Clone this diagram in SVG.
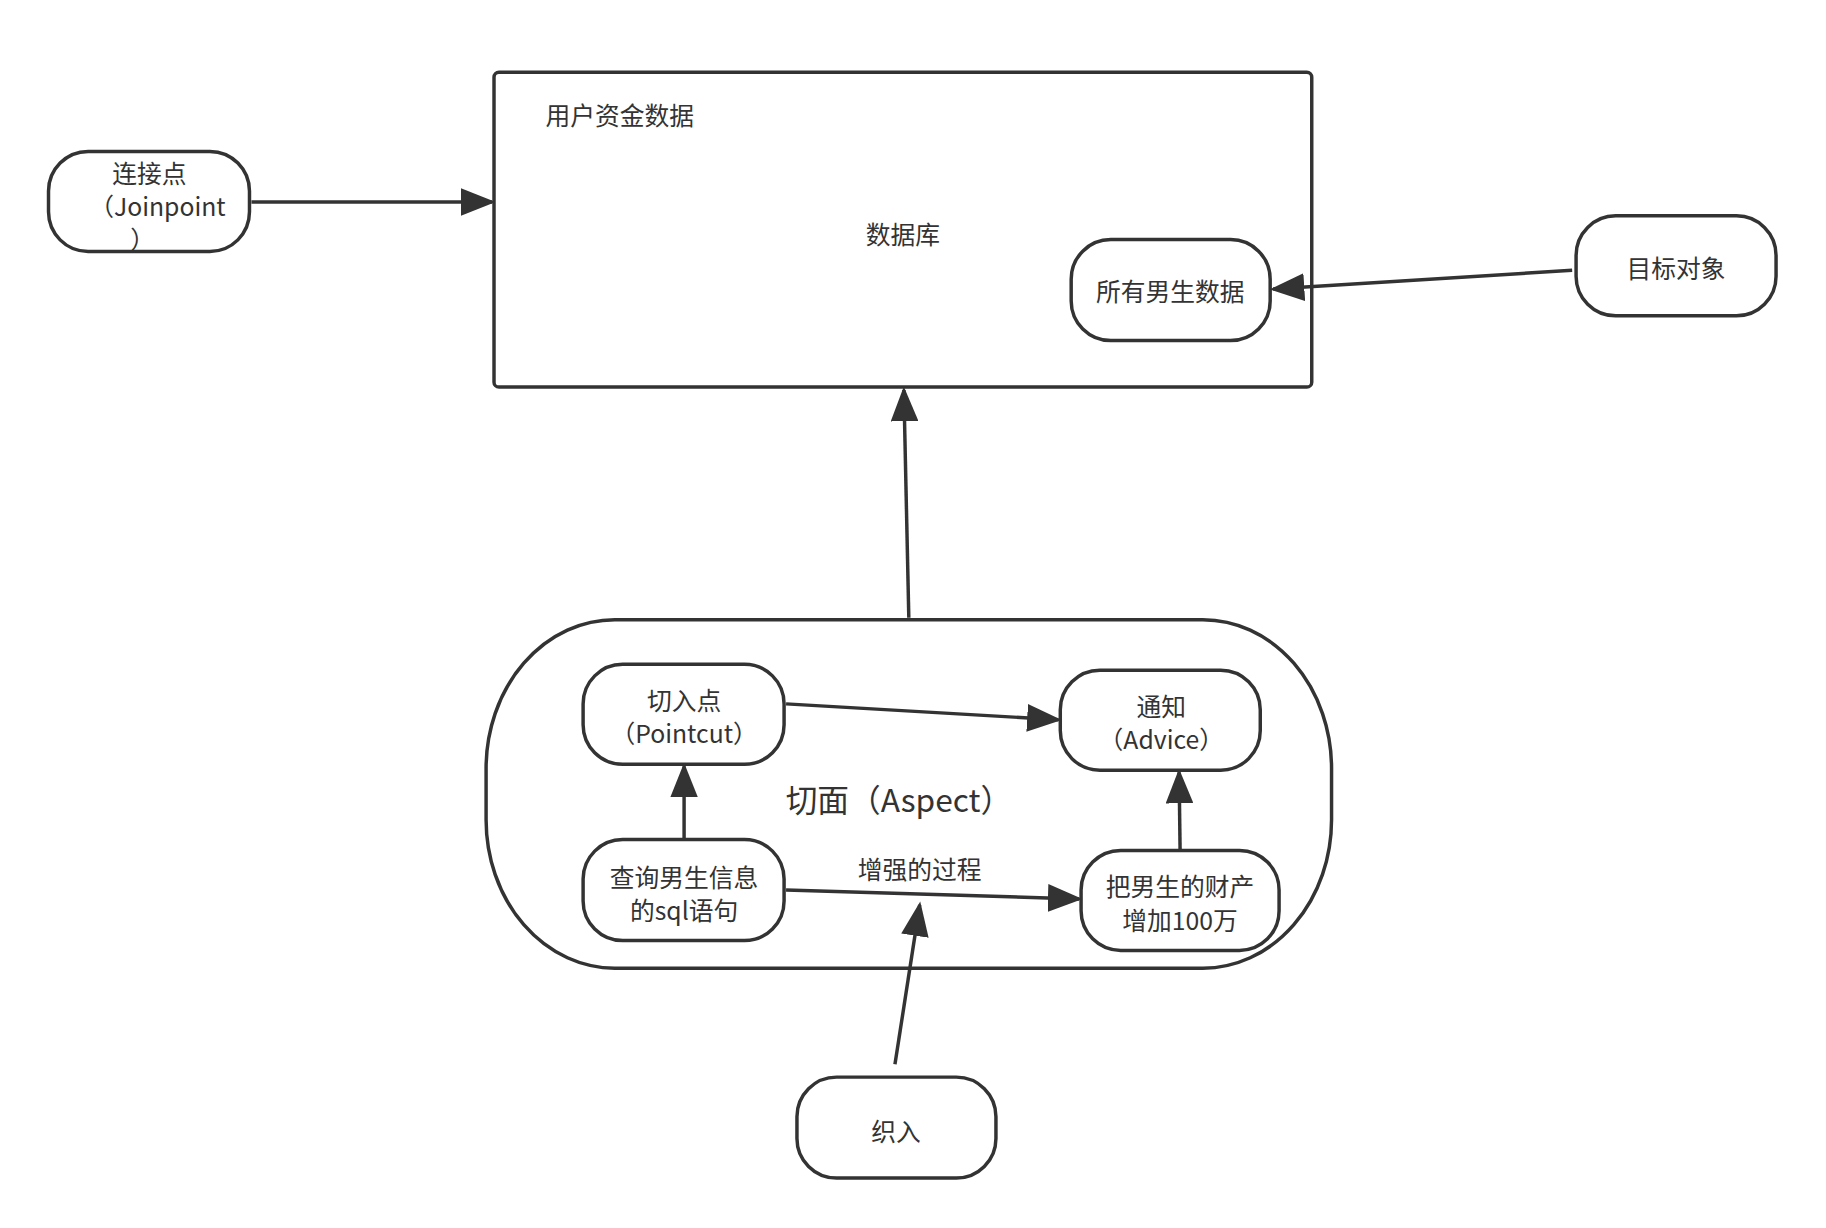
<svg xmlns="http://www.w3.org/2000/svg" width="1826" height="1228" viewBox="0 0 1826 1228">
<style>
.n{fill:#fff;stroke:#333;stroke-width:3.5}
.t{font-family:"Noto Sans CJK SC","Noto Sans",sans-serif;font-size:25px;fill:#333;text-anchor:middle;dominant-baseline:central}
.c{stroke:#333;stroke-width:3.5;fill:none;marker-end:url(#a)}
</style>
<defs><marker id="a" markerWidth="10" markerHeight="8" refX="9" refY="4" orient="auto" markerUnits="strokeWidth"><path d="M0,0 L10,4 L0,8 Z" fill="#333"/></marker></defs>
<rect width="1826" height="1228" fill="#fff"/>
<g transform="scale(0.99)">
<g id="db"><rect class="n" x="499" y="73" width="826" height="318" rx="5"/>
<text class="t" x="551" y="115" style="text-anchor:start">用户资金数据</text>
<text class="t" x="912" y="235">数据库</text></g>
<g id="aspect"><rect class="n" x="491" y="626" width="854" height="352" rx="130" ry="150"/>
<text class="t" x="908" y="806" style="font-size:32px">切面（Aspect）</text></g>
<g id="male"><rect class="n" x="1082" y="242" width="201" height="102" rx="40"/><text class="t" x="1182" y="293">所有男生数据</text></g>
<g id="target"><rect class="n" x="1592" y="218" width="202" height="101" rx="40"/><text class="t" x="1693" y="270">目标对象</text></g>
<g id="joinpoint"><rect class="n" x="49" y="153" width="203" height="101" rx="40"/><text class="t" x="151" y="174">连接点</text><text class="t" x="159" y="207">（Joinpoint</text><text class="t" x="144" y="240">）</text></g>
<g id="pointcut"><rect class="n" x="589" y="671" width="203" height="101" rx="40"/><text class="t" x="691" y="706">切入点</text><text class="t" x="691" y="739">（Pointcut）</text></g>
<g id="advice"><rect class="n" x="1071" y="677" width="202" height="101" rx="40"/><text class="t" x="1173" y="712">通知</text><text class="t" x="1173" y="745">（Advice）</text></g>
<g id="sql"><rect class="n" x="589" y="848" width="203" height="102" rx="40"/><text class="t" x="691" y="885">查询男生信息</text><text class="t" x="691" y="918">的sql语句</text></g>
<g id="add"><rect class="n" x="1092" y="859" width="200" height="101" rx="40"/><text class="t" x="1192" y="894">把男生的财产</text><text class="t" x="1192" y="928">增加100万</text></g>
<g id="weave"><rect class="n" x="805" y="1088" width="201" height="102" rx="40"/><text class="t" x="905" y="1141">织入</text></g>
<text class="t" x="929" y="877">增强的过程</text>
<g id="connectors">
<line class="c" x1="254" y1="204" x2="497" y2="204"/>
<line class="c" x1="1588" y1="273" x2="1286" y2="292"/>
<line class="c" x1="918" y1="624" x2="913" y2="394"/>
<line class="c" x1="794" y1="711" x2="1069" y2="727"/>
<line class="c" x1="691" y1="847" x2="691" y2="774"/>
<line class="c" x1="1192" y1="858" x2="1191" y2="780"/>
<line class="c" x1="794" y1="899" x2="1090" y2="908"/>
<line class="c" x1="904" y1="1075" x2="929" y2="914"/>
</g>
</g>
</svg>
